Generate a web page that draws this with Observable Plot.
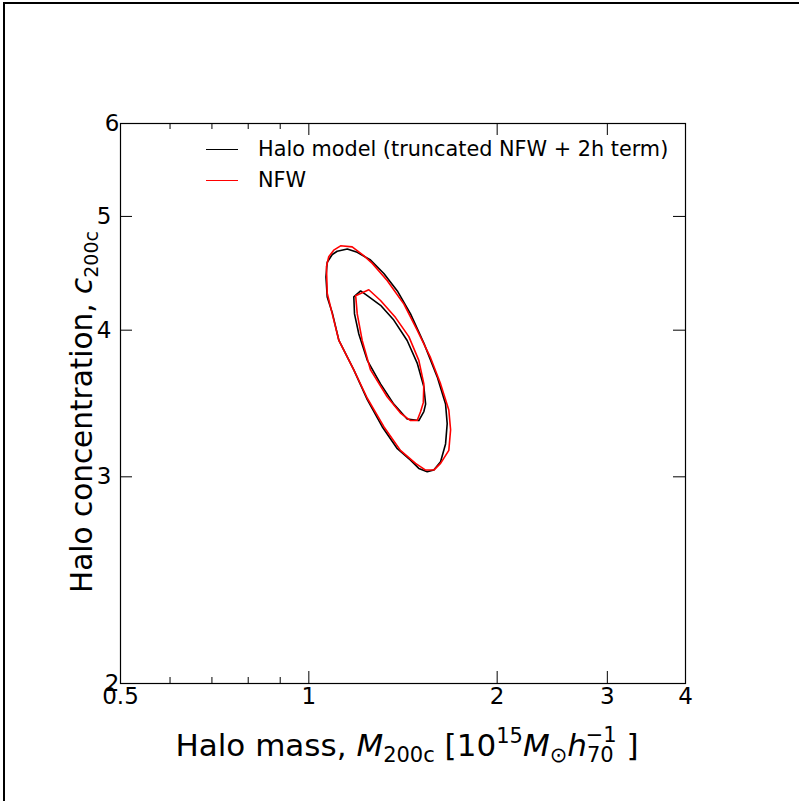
<!DOCTYPE html>
<html>
<head>
<meta charset="utf-8">
<script src="https://cdn.jsdelivr.net/npm/d3@7"></script>
<script src="https://cdn.jsdelivr.net/npm/@observablehq/plot@0.6"></script>
<style>
  html, body { margin: 0; padding: 0; background: #fff; }
  #wrap { position: relative; width: 799px; height: 801px; overflow: hidden; font-family: "DejaVu Sans", sans-serif; }
  #border { position: absolute; left: 3px; top: 2px; width: 820px; height: 820px; border-left: 2px solid #000; border-top: 2px solid #000; }
  #chart { position: absolute; left: 0; top: 0; }
  .leg { position: absolute; font-family: "DejaVu Sans", sans-serif; font-size: 20.8px; color: #000; white-space: nowrap; }
  .legline { position: absolute; height: 0; border-top: 1.3px solid; }
</style>
</head>
<body>
<div id="wrap">
  <div id="border"></div>
  <div id="chart"></div>
</div>
<script>
// ---- Data ----
// Halo model (truncated NFW + 2h term): black contours
const haloOuterM = [1.152,1.110,1.090,1.070,1.065,1.070,1.090,1.117,1.180,1.240,1.310,1.385,1.454,1.499,1.546,1.584,1.624,1.654,1.664,1.654,1.604,1.527,1.454,1.385,1.318,1.255,1.195];
const haloOuterC = [4.69,4.67,4.64,4.57,4.44,4.27,4.14,3.92,3.70,3.49,3.31,3.17,3.10,3.05,3.03,3.04,3.09,3.20,3.33,3.46,3.65,3.90,4.13,4.32,4.47,4.59,4.66];
const haloInnerM = [1.180,1.210,1.240,1.302,1.367,1.436,1.490,1.527,1.537,1.527,1.499,1.436,1.367,1.302,1.240,1.202,1.183];
const haloInnerC = [4.27,4.32,4.28,4.20,4.08,3.92,3.75,3.58,3.46,3.41,3.35,3.36,3.46,3.60,3.77,3.97,4.13];
// NFW: red contours
const nfwOuterM = [1.124,1.173,1.224,1.263,1.334,1.419,1.490,1.565,1.624,1.674,1.685,1.674,1.624,1.584,1.537,1.481,1.401,1.318,1.240,1.180,1.117,1.090,1.070,1.067,1.076,1.096];
const nfwOuterC = [4.72,4.71,4.63,4.56,4.41,4.21,4.00,3.79,3.60,3.42,3.29,3.16,3.08,3.04,3.04,3.08,3.16,3.31,3.50,3.70,3.92,4.13,4.30,4.53,4.62,4.68];
const nfwInnerM = [1.188,1.247,1.302,1.376,1.445,1.499,1.527,1.524,1.509,1.490,1.454,1.401,1.334,1.255,1.217,1.195];
const nfwInnerC = [4.28,4.33,4.24,4.10,3.95,3.77,3.60,3.47,3.41,3.35,3.35,3.40,3.51,3.70,3.92,4.13];

const seriesNames = ["Halo model (truncated NFW + 2h term)", "NFW"];
const seriesColors = ["#000000", "#ff0000"];

const xMajorTicks = [1, 2, 3];
const xMinorTicks = [0.6, 0.7, 0.8, 0.9];
const xTickLabels = [0.5, 1, 2, 3, 4];
const yMajorTicks = [3, 4, 5];
const yEdgeLabels = [2, 6];
const xDomain = [0.5, 4];
const yDomain = [2, 6];

// ---- Build table ----
const contours = [
  {series: seriesNames[0], level: "outer", m: haloOuterM, c: haloOuterC},
  {series: seriesNames[0], level: "inner", m: haloInnerM, c: haloInnerC},
  {series: seriesNames[1], level: "outer", m: nfwOuterM, c: nfwOuterC},
  {series: seriesNames[1], level: "inner", m: nfwInnerM, c: nfwInnerC}
];
const rows = contours.flatMap(k => k.m.map((m, i) => ({m, c: k.c[i], series: k.series, key: k.series + "|" + k.level})));

const W = 799, H = 801;
const mL = 120, mR = 114, mT = 123, mB = 118;
const innerW = W - mL - mR, innerH = H - mT - mB;
const majLen = 12, minLen = 6;
const fmt = d3.format("~g");

const plot = Plot.plot({
  width: W, height: H,
  marginLeft: mL, marginRight: mR, marginTop: mT, marginBottom: mB,
  x: {type: "log", domain: xDomain},
  y: {type: "log", domain: yDomain},
  color: {domain: seriesNames, range: seriesColors},
  style: {fontFamily: "DejaVu Sans", background: "transparent", overflow: "visible"},
  marks: [
    Plot.line(rows, {x: "m", y: "c", z: "key", stroke: "series", strokeWidth: 1.6, curve: "linear-closed"}),
    Plot.frame({stroke: "#000", strokeWidth: 1.2}),
    // inward ticks: bottom & top
    Plot.ruleX(xMajorTicks, {stroke: "#000", insetTop: innerH - majLen}),
    Plot.ruleX(xMajorTicks, {stroke: "#000", insetBottom: innerH - majLen}),
    Plot.ruleX(xMinorTicks, {stroke: "#000", insetTop: innerH - minLen}),
    Plot.ruleX(xMinorTicks, {stroke: "#000", insetBottom: innerH - minLen}),
    // inward ticks: left & right
    Plot.ruleY(yMajorTicks, {stroke: "#000", insetRight: innerW - majLen}),
    Plot.ruleY(yMajorTicks, {stroke: "#000", insetLeft: innerW - majLen}),
    // tick labels
    Plot.axisX(xTickLabels, {tickSize: 0, tickPadding: 4, fontSize: 23, label: null, tickFormat: fmt, fill: "#000"}),
    Plot.axisY(yMajorTicks, {tickSize: 0, tickPadding: 9, fontSize: 23, label: null, tickFormat: fmt, fill: "#000"}),
    Plot.axisY(yEdgeLabels, {tickSize: 0, tickPadding: 1, fontSize: 23, label: null, tickFormat: fmt, fill: "#000"})
  ]
});
document.getElementById("chart").appendChild(plot);

// ---- Axis titles (mathtext-like) ----
const svg = d3.select(plot);
const xt = svg.append("text")
  .attr("x", 407).attr("y", 756)
  .attr("text-anchor", "middle")
  .attr("font-family", "DejaVu Sans").attr("font-size", 31).attr("fill", "#000");
xt.append("tspan").text("Halo mass, ");
xt.append("tspan").attr("font-style", "italic").text("M");
xt.append("tspan").attr("font-size", 21).attr("dy", 6).text("200c");
xt.append("tspan").attr("dy", -6).text(" [10");
xt.append("tspan").attr("font-size", 21).attr("dy", -13).text("15");
xt.append("tspan").attr("dy", 13).attr("font-style", "italic").text("M");
xt.append("tspan").attr("font-size", 21).attr("dy", 6).text("\u2299");
xt.append("tspan").attr("dy", -6).attr("font-style", "italic").text("h");
xt.append("tspan").attr("font-size", 21).attr("dy", 6).text("70");
xt.append("tspan").attr("font-size", 21).attr("dx", -28).attr("dy", -20).text("\u22121");
xt.append("tspan").attr("dy", 14).text(" ]");

const yt = svg.append("text")
  .attr("transform", `translate(92,412) rotate(-90)`)
  .attr("text-anchor", "middle")
  .attr("font-family", "DejaVu Sans").attr("font-size", 29.5).attr("fill", "#000");
yt.append("tspan").text("Halo concentration, ");
yt.append("tspan").attr("font-style", "italic").text("c");
yt.append("tspan").attr("font-size", 19).attr("dy", 6).text("200c");

// ---- Legend (inside the axes, top-left) ----
const wrap = document.getElementById("wrap");
seriesNames.forEach((name, i) => {
  const yy = 150 + i * 31;
  const ln = document.createElement("div");
  ln.className = "legline";
  ln.style.left = "206px"; ln.style.width = "32px"; ln.style.top = (yy - 1) + "px";
  ln.style.borderTopColor = seriesColors[i];
  wrap.appendChild(ln);
  const tx = document.createElement("div");
  tx.className = "leg";
  tx.style.left = "258px"; tx.style.top = (yy - 13) + "px";
  tx.textContent = name;
  wrap.appendChild(tx);
});
</script>
</body>
</html>
